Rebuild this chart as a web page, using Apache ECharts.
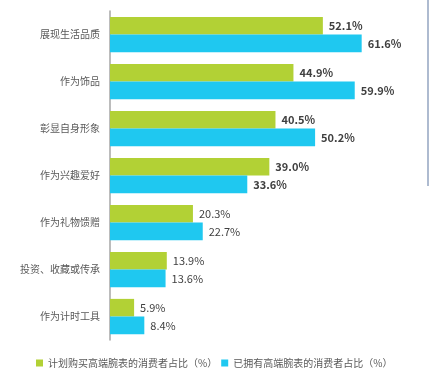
<!DOCTYPE html>
<html>
<head>
<meta charset="utf-8">
<script src="https://cdn.jsdelivr.net/npm/echarts@6/dist/echarts.min.js"></script>
<style>
html,body{margin:0;padding:0;background:#fff;}
#c{width:429px;height:374px;}
</style>
</head>
<body>
<div id="c"></div>
<script>
const categories = ['展现生活品质','作为饰品','彰显自身形象','作为兴趣爱好','作为礼物馈赠','投资、收藏或传承','作为计时工具'];
const planValues = [52.1, 44.9, 40.5, 39.0, 20.3, 13.9, 5.9];
const ownValues = [61.6, 59.9, 50.2, 33.6, 22.7, 13.6, 8.4];
const seriesNames = ['计划购买高端腕表的消费者占比（%）','已拥有高端腕表的消费者占比（%）'];
const boldCount = 4;

const font = '"Noto Sans CJK SC", "Noto Sans", sans-serif';
function labelFmt(p){
  const txt = p.value.toFixed(1) + '%';
  return p.dataIndex < boldCount ? '{b|' + txt + '}' : '{n|' + txt + '}';
}
const labelCfg = {
  show: true, position: 'right', distance: 6,
  formatter: labelFmt,
  rich: {
    b: {fontWeight: 'bold', fontSize: 11, color: '#404040', fontFamily: font},
    n: {fontWeight: 'normal', fontSize: 11, color: '#404040', fontFamily: font}
  }
};

const chart = echarts.init(document.getElementById('c'));
chart.setOption({
  animation: false,
  textStyle: {fontFamily: font},
  grid: {left: 110, right: 33, top: 11, bottom: 34, containLabel: false},
  legend: {
    bottom: 6, left: 36, width: 400, itemWidth: 7, itemHeight: 7, itemGap: 4,
    icon: 'rect', padding: 0,
    textStyle: {fontSize: 10, color: '#595959', fontFamily: font},
    data: seriesNames
  },
  xAxis: {
    type: 'value', min: 0, max: 70,
    show: false, splitLine: {show: false}
  },
  yAxis: {
    type: 'category', data: categories, inverse: true,
    axisLine: {show: true, lineStyle: {color: '#A6A6A6', width: 1.5}},
    axisTick: {show: false},
    axisLabel: {fontSize: 10, color: '#595959', margin: 10, fontFamily: font}
  },
  series: [
    {
      name: seriesNames[0], type: 'bar', data: planValues,
      barCategoryGap: '25%', barGap: '0%',
      itemStyle: {color: '#B2D135'},
      label: labelCfg
    },
    {
      name: seriesNames[1], type: 'bar', data: ownValues,
      barCategoryGap: '25%', barGap: '0%',
      itemStyle: {color: '#1FC8F0'},
      label: labelCfg
    }
  ],
  graphic: [
    {type: 'rect', shape: {x: 427, y: 0, width: 2, height: 186}, style: {fill: '#AEBBD0'}}
  ]
});
</script>
</body>
</html>
